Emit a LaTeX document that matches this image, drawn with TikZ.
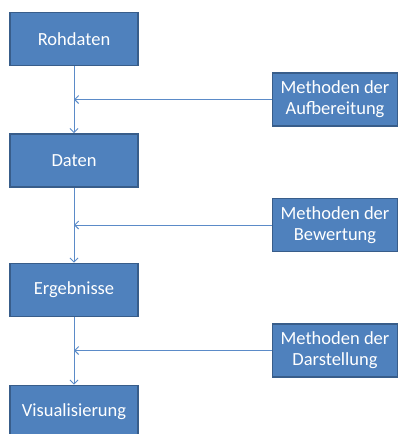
\documentclass[tikz,border=0pt]{standalone}
\usepackage{fontspec}
\setmainfont{Carlito}
\usetikzlibrary{arrows.meta}
\definecolor{boxfill}{RGB}{79,129,189}
\definecolor{boxline}{RGB}{56,93,138}
\definecolor{flowline}{RGB}{91,139,200}
\begin{document}
\begin{tikzpicture}[x=1pt,y=-1pt,
	stepbox/.style={draw=boxline,fill=boxfill,line width=1.6pt,text=white,
		minimum width=128pt,minimum height=53pt,inner sep=0pt,
		font=\fontsize{18.5}{21}\selectfont},
	methbox/.style={stepbox,minimum width=125pt,align=center},
	flow/.style={draw=flowline,line width=1pt,-{Straight Barb[length=4pt,width=8pt]}}]

	\clip (0,0) rectangle (400,434);
	\fill[white] (0,0) rectangle (400,434);

	\node[stepbox] (rohdaten) at (74,39) {Rohdaten};
	\node[stepbox] (daten) at (74,160.5) {Daten};
	\node[stepbox] (ergebnisse) at (74,290) {Ergebnisse};
	\node[stepbox] (visual) at (74,412) {Visualisierung};

	\node[methbox] (aufbereitung) at (335,99.5) {Methoden der\\Aufbereitung};
	\node[methbox] (bewertung) at (335,225) {Methoden der\\Bewertung};
	\node[methbox] (darstellung) at (335,350.5) {Methoden der\\Darstellung};

	\draw[flow] (rohdaten.south) -- (daten.north);
	\draw[flow] (daten.south) -- (ergebnisse.north);
	\draw[flow] (ergebnisse.south) -- (visual.north);

	\draw[flow] (aufbereitung.west) -- (aufbereitung.west -| rohdaten.south);
	\draw[flow] (bewertung.west) -- (bewertung.west -| daten.south);
	\draw[flow] (darstellung.west) -- (darstellung.west -| ergebnisse.south);
\end{tikzpicture}
\end{document}
